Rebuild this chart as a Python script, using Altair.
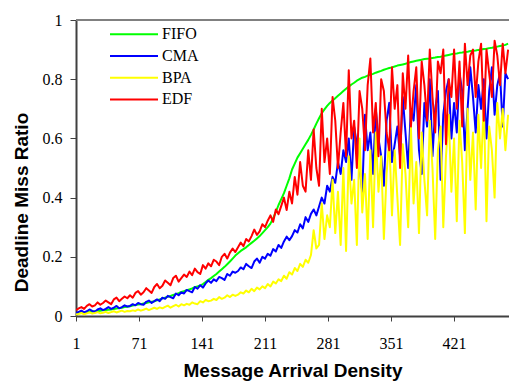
import altair as alt
import pandas as pd

# ---------------- data ----------------
x_start = 1
x_step = 3

fifo = [
    0.010, 0.010, 0.012, 0.012, 0.013, 0.014, 0.015, 0.016, 0.017, 0.018,
    0.019, 0.020, 0.021, 0.022, 0.024, 0.025, 0.027, 0.028, 0.030, 0.031,
    0.033, 0.035, 0.037, 0.039, 0.040, 0.042, 0.044, 0.046, 0.048, 0.050,
    0.053, 0.056, 0.059, 0.062, 0.065, 0.068, 0.071, 0.074, 0.077, 0.081,
    0.084, 0.087, 0.090, 0.093, 0.097, 0.100, 0.103, 0.108, 0.115, 0.122,
    0.128, 0.135, 0.142, 0.150, 0.158, 0.166, 0.175, 0.184, 0.194, 0.204,
    0.212, 0.220, 0.226, 0.232, 0.240, 0.247, 0.254, 0.262, 0.270, 0.280,
    0.290, 0.300, 0.312, 0.330, 0.352, 0.375, 0.395, 0.415, 0.440, 0.465,
    0.495, 0.515, 0.535, 0.550, 0.565, 0.580, 0.595, 0.612, 0.630, 0.650,
    0.668, 0.685, 0.698, 0.710, 0.720, 0.728, 0.736, 0.744, 0.752, 0.760,
    0.768, 0.775, 0.782, 0.788, 0.795, 0.800, 0.805, 0.808, 0.812, 0.815,
    0.818, 0.822, 0.825, 0.828, 0.832, 0.835, 0.838, 0.840, 0.843, 0.846,
    0.848, 0.850, 0.852, 0.855, 0.858, 0.860, 0.862, 0.864, 0.866, 0.868,
    0.869, 0.870, 0.872, 0.873, 0.875, 0.876, 0.878, 0.880, 0.882, 0.884,
    0.886, 0.887, 0.889, 0.890, 0.892, 0.893, 0.895, 0.896, 0.897, 0.899,
    0.900, 0.902, 0.903, 0.905, 0.906, 0.908, 0.910, 0.912, 0.914, 0.916,
    0.920,
]

cma = [
    0.010, 0.014, 0.018, 0.012, 0.016, 0.022, 0.017, 0.014, 0.022, 0.026,
    0.020, 0.024, 0.030, 0.024, 0.028, 0.034, 0.026, 0.030, 0.036, 0.032,
    0.034, 0.040, 0.036, 0.044, 0.040, 0.038, 0.048, 0.052, 0.044, 0.050,
    0.056, 0.050, 0.062, 0.058, 0.068, 0.064, 0.060, 0.076, 0.070, 0.080,
    0.076, 0.088, 0.084, 0.080, 0.098, 0.092, 0.104, 0.096, 0.110, 0.120,
    0.112, 0.124, 0.118, 0.132, 0.128, 0.122, 0.142, 0.136, 0.150, 0.146,
    0.152, 0.164, 0.158, 0.176, 0.168, 0.162, 0.184, 0.194, 0.180, 0.200,
    0.194, 0.210, 0.204, 0.226, 0.218, 0.240, 0.230, 0.252, 0.268, 0.256,
    0.270, 0.290, 0.282, 0.310, 0.296, 0.334, 0.318, 0.345, 0.360, 0.340,
    0.370, 0.400, 0.380, 0.440, 0.420, 0.470, 0.450, 0.520, 0.480, 0.560,
    0.520, 0.600, 0.460, 0.640, 0.580, 0.500, 0.420, 0.680, 0.560, 0.620,
    0.480, 0.700, 0.600, 0.540, 0.440, 0.660, 0.720, 0.520, 0.580, 0.640,
    0.540, 0.740, 0.620, 0.500, 0.700, 0.660, 0.780, 0.560, 0.480, 0.720,
    0.640, 0.800, 0.540, 0.700, 0.760, 0.460, 0.680, 0.760, 0.800, 0.600,
    0.720, 0.620, 0.820, 0.760, 0.560, 0.700, 0.840, 0.740, 0.620, 0.780,
    0.700, 0.800, 0.600, 0.760, 0.840, 0.680, 0.780, 0.820, 0.640, 0.820,
    0.800,
]

bpa = [
    0.005, 0.007, 0.010, 0.006, 0.009, 0.012, 0.008, 0.010, 0.013, 0.009,
    0.011, 0.014, 0.010, 0.013, 0.016, 0.012, 0.015, 0.018, 0.014, 0.017,
    0.016, 0.019, 0.017, 0.022, 0.018, 0.021, 0.025, 0.020, 0.024, 0.028,
    0.024, 0.029, 0.026, 0.031, 0.035, 0.028, 0.033, 0.038, 0.032, 0.040,
    0.036, 0.041, 0.038, 0.046, 0.042, 0.040, 0.050, 0.046, 0.054, 0.050,
    0.052, 0.058, 0.054, 0.064, 0.058, 0.062, 0.070, 0.064, 0.072, 0.068,
    0.072, 0.080, 0.076, 0.086, 0.080, 0.092, 0.084, 0.096, 0.090, 0.100,
    0.094, 0.108, 0.100, 0.116, 0.110, 0.124, 0.118, 0.136, 0.126, 0.148,
    0.140, 0.162, 0.152, 0.176, 0.166, 0.190, 0.180, 0.206, 0.290, 0.228,
    0.240, 0.380, 0.260, 0.340, 0.300, 0.460, 0.280, 0.420, 0.240, 0.500,
    0.220, 0.540, 0.380, 0.460, 0.240, 0.600, 0.350, 0.480, 0.260, 0.560,
    0.300, 0.620, 0.420, 0.540, 0.260, 0.480, 0.600, 0.340, 0.560, 0.400,
    0.240, 0.580, 0.480, 0.300, 0.640, 0.380, 0.520, 0.280, 0.620, 0.460,
    0.340, 0.660, 0.500, 0.260, 0.560, 0.640, 0.300, 0.540, 0.680, 0.420,
    0.600, 0.320, 0.660, 0.520, 0.280, 0.700, 0.460, 0.620, 0.360, 0.680,
    0.500, 0.720, 0.320, 0.640, 0.560, 0.400, 0.720, 0.600, 0.700, 0.560,
    0.680,
]

edf = [
    0.020, 0.026, 0.030, 0.024, 0.034, 0.040, 0.032, 0.036, 0.046, 0.038,
    0.044, 0.052, 0.046, 0.040, 0.056, 0.062, 0.050, 0.058, 0.066, 0.060,
    0.070, 0.062, 0.078, 0.084, 0.072, 0.080, 0.094, 0.086, 0.078, 0.098,
    0.108, 0.094, 0.102, 0.120, 0.112, 0.104, 0.128, 0.136, 0.116, 0.128,
    0.140, 0.132, 0.150, 0.138, 0.160, 0.148, 0.142, 0.172, 0.160, 0.178,
    0.168, 0.190, 0.184, 0.172, 0.200, 0.210, 0.194, 0.214, 0.228, 0.216,
    0.232, 0.248, 0.236, 0.260, 0.252, 0.270, 0.292, 0.274, 0.286, 0.310,
    0.300, 0.322, 0.340, 0.318, 0.360, 0.344, 0.372, 0.400, 0.358, 0.420,
    0.380, 0.470, 0.410, 0.520, 0.440, 0.420, 0.560, 0.460, 0.630, 0.500,
    0.440, 0.700, 0.520, 0.600, 0.480, 0.740, 0.660, 0.500, 0.620, 0.720,
    0.540, 0.830, 0.600, 0.660, 0.500, 0.760, 0.700, 0.560, 0.780, 0.870,
    0.620, 0.720, 0.540, 0.800, 0.760, 0.620, 0.560, 0.840, 0.700, 0.780,
    0.500, 0.820, 0.700, 0.880, 0.640, 0.760, 0.840, 0.600, 0.860, 0.780,
    0.660, 0.900, 0.740, 0.620, 0.860, 0.820, 0.900, 0.580, 0.800, 0.740,
    0.900, 0.700, 0.860, 0.640, 0.920, 0.780, 0.880, 0.900, 0.740, 0.860,
    0.920, 0.660, 0.900, 0.820, 0.740, 0.930, 0.880, 0.780, 0.920, 0.820,
    0.900,
]

series_names = ["FIFO", "CMA", "BPA", "EDF"]
series_colors = ["#00FF00", "#0000FF", "#FFFF00", "#FF0000"]
x_ticks = [1, 71, 141, 211, 281, 351, 421]
y_ticks = [0, 0.2, 0.4, 0.6, 0.8, 1]

# ---------------- chart ----------------
series_values = [fifo, cma, bpa, edf]
xs = [x_start + x_step * i for i in range(len(fifo))]

x_scale = alt.Scale(domain=[1, 482], nice=False, zero=False)
y_scale = alt.Scale(domain=[0, 1], nice=False, zero=True)

x_axis = alt.Axis(
    values=x_ticks, title="Message Arrival Density", grid=False,
    labelFont="Liberation Serif", labelFontSize=16, labelColor="#000000",
    labelPadding=14, tickSize=5, tickColor="#404040", tickWidth=1,
    domainColor="#404040", domainWidth=2, labelFlush=False,
    titleFont="Liberation Sans", titleFontSize=19, titleFontWeight="bold",
    titleColor="#000000", titleY=60, titleBaseline="alphabetic",
)
y_axis = alt.Axis(
    values=y_ticks, format=".1~f", title="Deadline Miss Ratio", grid=False,
    labelFont="Liberation Serif", labelFontSize=16, labelColor="#000000",
    labelPadding=8, tickSize=6, tickColor="#404040", tickWidth=1,
    domainColor="#404040", domainWidth=2,
    titleFont="Liberation Sans", titleFontSize=19, titleFontWeight="bold",
    titleColor="#000000", titleX=-49, titleY=182, titleAngle=270,
    titleAlign="center", titleBaseline="alphabetic",
)

layers = []
# top frame line
layers.append(
    alt.Chart(pd.DataFrame({"y": [1.0]}))
    .mark_rule(color="#808080", strokeWidth=2)
    .encode(y=alt.Y("y:Q", scale=y_scale, axis=y_axis))
)

for name, color, vals in zip(series_names, series_colors, series_values):
    df = pd.DataFrame({"x": xs, "v": vals})
    layers.append(
        alt.Chart(df)
        .mark_line(color=color, strokeWidth=2, clip=True, strokeJoin="round")
        .encode(
            x=alt.X("x:Q", scale=x_scale, axis=x_axis),
            y=alt.Y("v:Q", scale=y_scale, axis=y_axis),
        )
    )

# legend (inside the plot, upper left)
for i, (name, color) in enumerate(zip(series_names, series_colors)):
    ly = 14.3 + i * 21.7
    layers.append(
        alt.Chart(pd.DataFrame({"n": [name]}))
        .mark_rule(color=color, strokeWidth=2)
        .encode(x=alt.value(34), x2=alt.value(82), y=alt.value(ly))
    )
    layers.append(
        alt.Chart(pd.DataFrame({"n": [name]}))
        .mark_text(align="left", baseline="middle", font="Liberation Serif",
                   fontSize=16, color="#000000")
        .encode(x=alt.value(86), y=alt.value(ly), text="n:N")
    )

chart = (
    alt.layer(*layers)
    .properties(
        width=433, height=296,
        autosize=alt.AutoSizeParams(type="none"),
        padding={"left": 76, "top": 20, "right": 0, "bottom": 65},
        background="#FFFFFF",
    )
    .configure_view(stroke=None)
)

chart.save("out.html", embed_options={"renderer": "svg", "actions": False})
